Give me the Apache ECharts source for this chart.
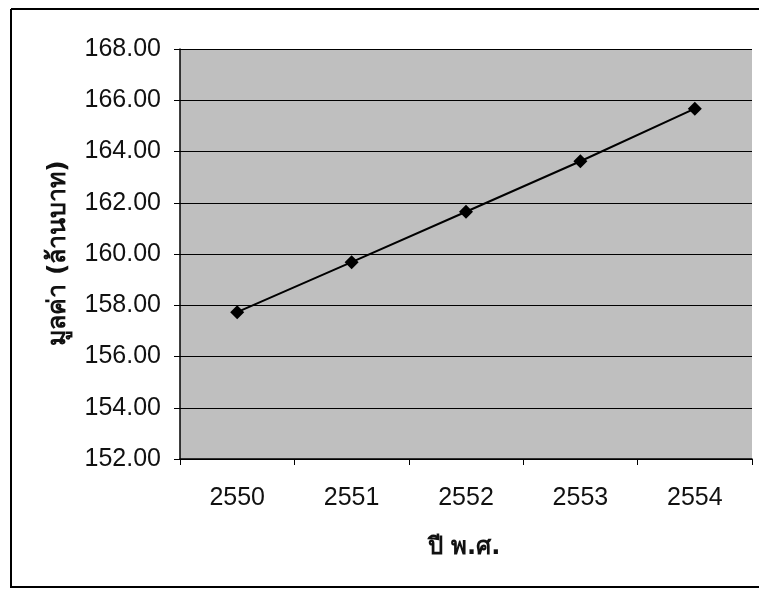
<!DOCTYPE html>
<html>
<head>
<meta charset="utf-8">
<script src="https://cdn.jsdelivr.net/npm/echarts@6/dist/echarts.min.js"></script>
<style>
  html, body { margin: 0; padding: 0; background: #ffffff; }
  #chart { width: 759px; height: 589px; }
</style>
</head>
<body>
<div id="chart"></div>
<script>
const categories = ['2550', '2551', '2552', '2553', '2554'];
const values = [157.73, 159.68, 161.65, 163.62, 165.67];
const yTicks = { min: 152, max: 168, interval: 2 };
const xTitle = 'ปี พ.ศ.';
const yTitle = 'มูลค่า (ล้านบาท)';

const chart = echarts.init(document.getElementById('chart'), null, { renderer: 'canvas' });
const labelFont = '"Liberation Sans", Arial, sans-serif';
const thaiFont = 'Tahoma, "DejaVu Sans", "Noto Sans", sans-serif';

chart.setOption({
  animation: false,
  backgroundColor: '#ffffff',
  grid: {
    left: 180, top: 49, right: 7, bottom: 130,
    show: true, backgroundColor: '#bfbfbf', borderWidth: 0
  },
  xAxis: {
    type: 'category',
    data: categories,
    boundaryGap: true,
    axisLine: { show: true, lineStyle: { color: '#000', width: 1.5 } },
    axisTick: { show: true, length: 6, lineStyle: { color: '#000' } },
    axisLabel: { color: '#111', fontSize: 25, fontFamily: labelFont, margin: 27 },
    splitLine: { show: false }
  },
  yAxis: {
    type: 'value',
    min: yTicks.min, max: yTicks.max, interval: yTicks.interval,
    axisLine: { show: true, lineStyle: { color: '#000', width: 1.5 } },
    axisTick: { show: true, length: 6, lineStyle: { color: '#000' } },
    axisLabel: {
      color: '#111', fontSize: 25, fontFamily: labelFont, margin: 19,
      formatter: v => v.toFixed(2)
    },
    splitLine: { show: true, lineStyle: { color: '#000', width: 1 } }
  },
  series: [{
    type: 'line',
    data: values,
    symbol: 'diamond',
    symbolSize: 14,
    lineStyle: { color: '#000', width: 2 },
    itemStyle: { color: '#000' }
  }],
  graphic: [
    {
      type: 'text', x: 464, y: 548,
      style: { text: xTitle, font: 'bold 24px ' + thaiFont, fill: '#111', textAlign: 'center', textVerticalAlign: 'middle' }
    },
    {
      type: 'text', x: 58, y: 253, rotation: Math.PI / 2,
      style: { text: yTitle, font: 'bold 25px ' + thaiFont, fill: '#111', textAlign: 'center', textVerticalAlign: 'middle' }
    },
    { type: 'line', shape: { x1: 11, y1: 9, x2: 759, y2: 9 }, style: { stroke: '#000', lineWidth: 2 } },
    { type: 'line', shape: { x1: 11, y1: 9, x2: 11, y2: 588 }, style: { stroke: '#000', lineWidth: 2 } },
    { type: 'line', shape: { x1: 11, y1: 587, x2: 759, y2: 587 }, style: { stroke: '#000', lineWidth: 2 } }
  ]
});
</script>
</body>
</html>
